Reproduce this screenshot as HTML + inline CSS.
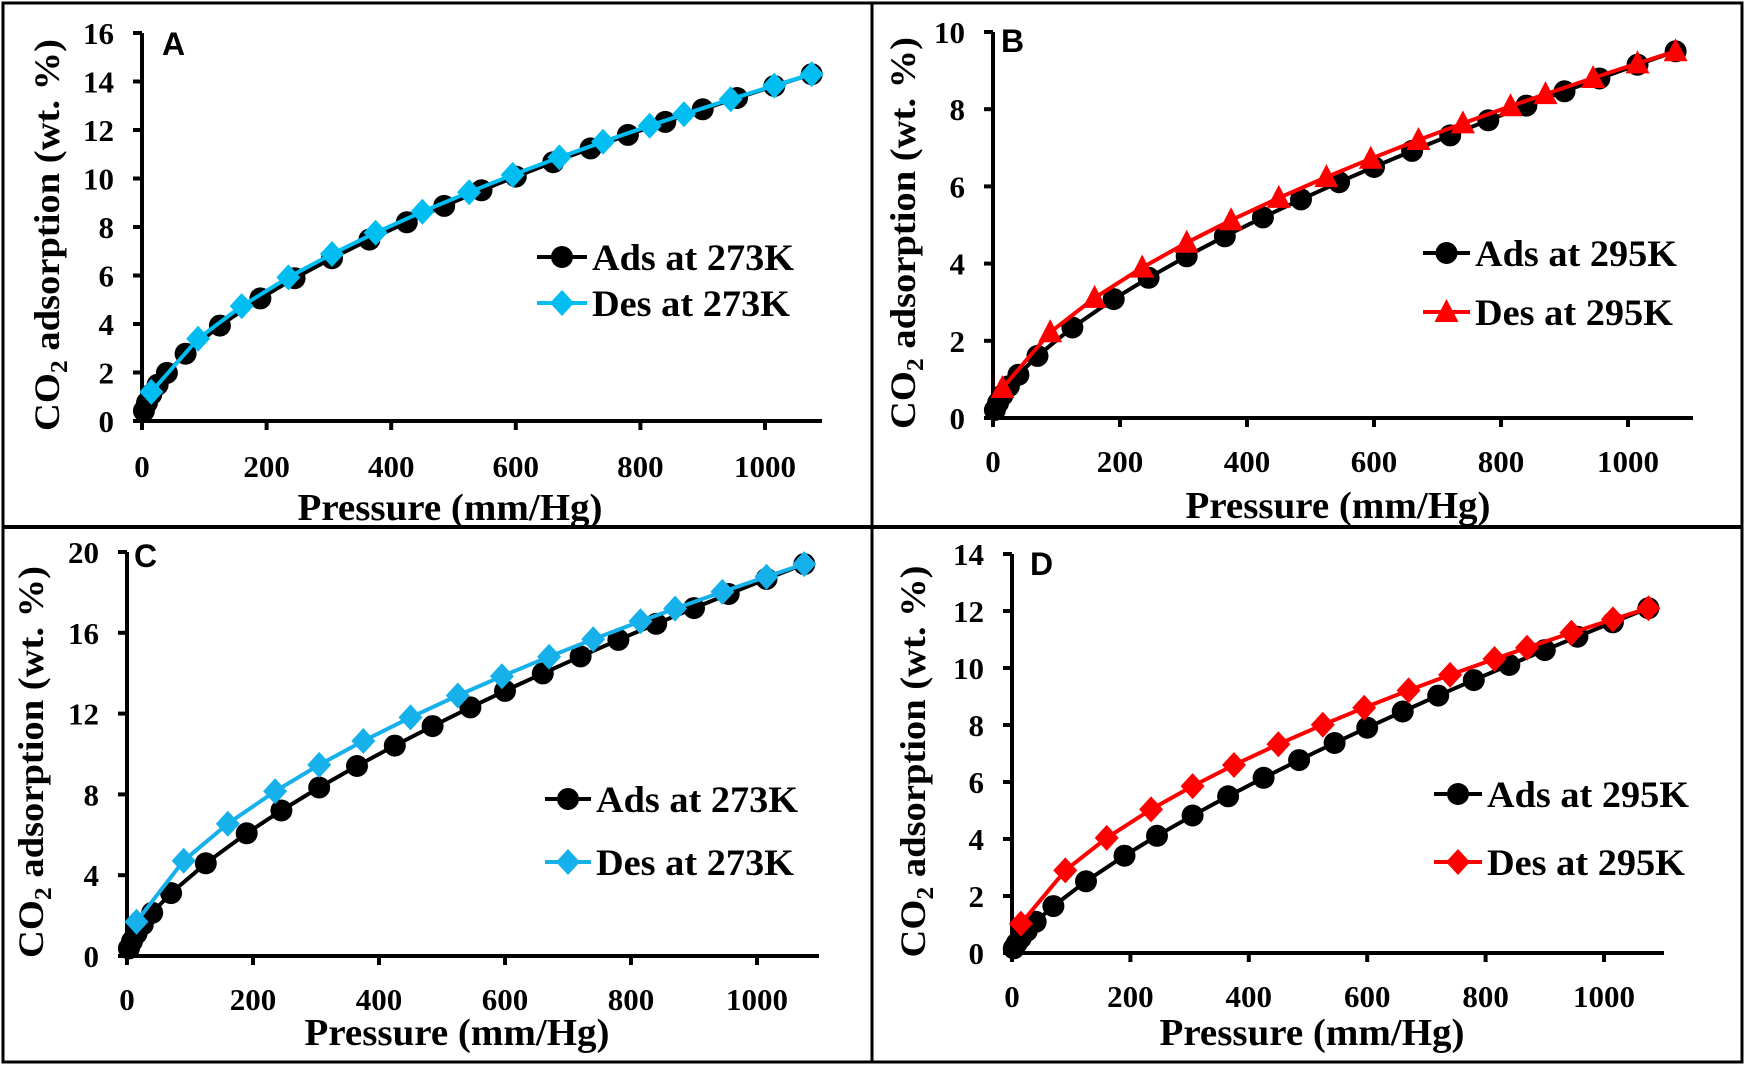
<!DOCTYPE html>
<html><head><meta charset="utf-8"><style>
html,body{margin:0;padding:0;background:#fff;}
svg{display:block;}
text{font-family:"Liberation Serif",serif;font-weight:bold;fill:#000;}
.lbl{font-family:"Liberation Sans",sans-serif;}
</style></head><body>
<svg id="s" width="1748" height="1066" viewBox="0 0 1748 1066" xmlns="http://www.w3.org/2000/svg">
<rect x="0" y="0" width="1748" height="1066" fill="#fff"/>
<g fill="none" stroke="#000">
<rect x="3" y="3" width="1739" height="1059" stroke-width="3"/>
<line x1="872" y1="3" x2="872" y2="1062" stroke-width="3"/>
<line x1="3" y1="527" x2="1742" y2="527" stroke-width="4"/>
</g>
<g id="plots"></g>
</svg>
<script>
var P=[
 {x0:142,x1k:765,xe:822,y0:421,ytop:33,ymax:16,step:2,lab:"A",lx:162,ly:55,col:"#00BDF2",mk:"d",
  ads:[14.3,0.6],des:[14.3,0.58],leg:[537,587,257,303],temp:"273K",ylc:47,xly:473,xty:518,tc:450},
 {x0:993,x1k:1628,xe:1693,y0:418,ytop:32,ymax:10,step:2,lab:"B",lx:1001,ly:52,col:"#FF0000",mk:"t",
  ads:[9.5,0.65],des:[9.5,0.586],leg:[1423,1470,253,312],temp:"295K",ylc:903,xly:468,xty:516,tc:1338},
 {x0:127,x1k:757,xe:819,y0:956,ytop:552,ymax:20,step:4,lab:"C",lx:134,ly:567,col:"#16B0EA",mk:"d",
  ads:[19.4,0.67],des:[19.4,0.57],leg:[545,591,799,862],temp:"273K",ylc:31,xly:1006,xty:1043,tc:457},
 {x0:1012,x1k:1604,xe:1664,y0:953,ytop:554,ymax:14,step:2,lab:"D",lx:1030,ly:575,col:"#FF0000",mk:"d",
  ads:[12.1,0.73],des:[12.1,0.576],leg:[1434,1482,794,862],temp:"295K",ylc:913,xly:1003,xty:1043,tc:1312}
];
var adsX=[3,8,15,25,40,70,125,190,245,305,365,425,485,545,600,660,720,780,840,900,955,1015,1075];
var desX=[1075,1015,945,870,815,740,670,595,525,450,375,305,235,160,90,15];
var h='';
function mark(t,x,y,c){
 x=Math.round(x*10)/10;y=Math.round(y*10)/10;
 if(t==='c')return '<circle cx="'+x+'" cy="'+y+'" r="11" fill="'+c+'"/>';
 if(t==='d')return '<polygon points="'+x+','+(y-13)+' '+(x+12)+','+y+' '+x+','+(y+13)+' '+(x-12)+','+y+'" fill="'+c+'"/>';
 return '<polygon points="'+x+','+(y-13)+' '+(x+12)+','+(y+10)+' '+(x-12)+','+(y+10)+'" fill="'+c+'"/>';
}
function tl(s){return ' textLength="'+(15.5*String(s).length)+'" lengthAdjust="spacingAndGlyphs"';}
P.forEach(function(p){
 var sx=(p.x1k-p.x0)/1000, sy=(p.y0-p.ytop)/p.ymax;
 function X(v){return p.x0+v*sx} function Y(v){return p.y0-v*sy}
 h+='<line x1="'+p.x0+'" y1="'+(p.ytop)+'" x2="'+p.x0+'" y2="'+(p.y0+2)+'" stroke="#000" stroke-width="4"/>';
 h+='<line x1="'+(p.x0-2)+'" y1="'+p.y0+'" x2="'+p.xe+'" y2="'+p.y0+'" stroke="#000" stroke-width="4"/>';
 for(var v=0;v<=p.ymax;v+=p.step){
  h+='<line x1="'+(p.x0-9)+'" y1="'+Y(v)+'" x2="'+p.x0+'" y2="'+Y(v)+'" stroke="#000" stroke-width="4"/>';
  h+='<text x="'+(p.x0-28)+'" y="'+(Y(v)+11)+'" font-size="31" text-anchor="end"'+tl(v)+'>'+v+'</text>';
 }
 for(var v=0;v<=1000;v+=200){
  h+='<line x1="'+X(v)+'" y1="'+p.y0+'" x2="'+X(v)+'" y2="'+(p.y0+9)+'" stroke="#000" stroke-width="4"/>';
  h+='<text x="'+X(v)+'" y="'+(p.xly+4)+'" font-size="31" text-anchor="middle"'+tl(v)+'>'+v+'</text>';
 }
 h+='<text x="'+p.tc+'" y="'+(p.xty+2)+'" font-size="38" text-anchor="middle" textLength="305" lengthAdjust="spacingAndGlyphs">Pressure (mm/Hg)</text>';
 var cy=(p.ytop+p.y0)/2+8;
 h+='<text transform="translate('+(p.ylc+12)+','+cy+') rotate(-90)" font-size="36" text-anchor="middle" textLength="392" lengthAdjust="spacingAndGlyphs">CO<tspan font-size="24" dy="8">2</tspan><tspan dy="-8"> adsorption (wt. %)</tspan></text>';
 h+='<text class="lbl" x="'+p.lx+'" y="'+p.ly+'" font-size="32">'+p.lab+'</text>';
 var a='',d='',am='',dm='';
 adsX.forEach(function(x,i){var y=p.ads[0]*Math.pow(x/1075,p.ads[1]);a+=(i?'L':'M')+X(x).toFixed(1)+','+Y(y).toFixed(1);am+=mark('c',X(x),Y(y),'#000');});
 desX.forEach(function(x,i){var y=p.des[0]*Math.pow(x/1075,p.des[1]);d+=(i?'L':'M')+X(x).toFixed(1)+','+Y(y).toFixed(1);dm+=mark(p.mk,X(x),Y(y),p.col);});
 h+='<path d="'+a+'" fill="none" stroke="#000" stroke-width="4"/>'+am;
 h+='<path d="'+d+'" fill="none" stroke="'+p.col+'" stroke-width="4"/>'+dm;
 var L=p.leg,m=(L[0]+L[1])/2;
 h+='<line x1="'+L[0]+'" y1="'+L[2]+'" x2="'+L[1]+'" y2="'+L[2]+'" stroke="#000" stroke-width="4"/>'+mark('c',m,L[2],'#000');
 h+='<line x1="'+L[0]+'" y1="'+L[3]+'" x2="'+L[1]+'" y2="'+L[3]+'" stroke="'+p.col+'" stroke-width="4"/>'+mark(p.mk,m,L[3],p.col);
 h+='<text x="'+(L[1]+5)+'" y="'+(L[2]+13)+'" font-size="37" textLength="202" lengthAdjust="spacingAndGlyphs">Ads at '+p.temp+'</text>';
 h+='<text x="'+(L[1]+5)+'" y="'+(L[3]+13)+'" font-size="37" textLength="198" lengthAdjust="spacingAndGlyphs">Des at '+p.temp+'</text>';
});
document.getElementById('plots').innerHTML=h;
</script>
</body></html>
